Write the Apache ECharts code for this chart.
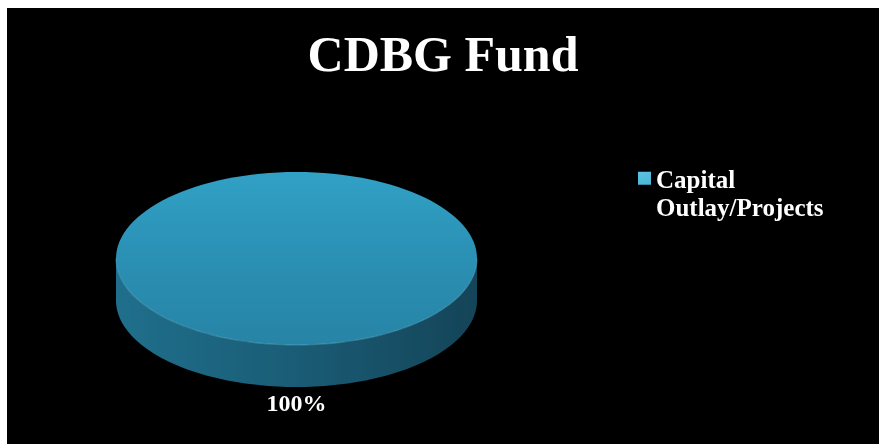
<!DOCTYPE html>
<html>
<head>
<meta charset="utf-8">
<script src="https://cdn.jsdelivr.net/npm/echarts@6/dist/echarts.min.js"></script>
<style>
  html, body { margin: 0; padding: 0; background: #ffffff; width: 879px; height: 444px; overflow: hidden; }
  #chart { position: absolute; left: 7px; top: 8px; width: 872px; height: 436px; background: #000000; }
</style>
</head>
<body>
<div id="chart"></div>
<script>
// ---- data ----
const titleText = 'CDBG Fund';
const categories = ['Capital Outlay/Projects'];
const legendLabels = ['Capital\nOutlay/Projects'];
const values = [100];

const chart = echarts.init(document.getElementById('chart'), null, { renderer: 'canvas' });

// geometry of the 3D-looking pie (chart-div coordinates)
const CX = 289.5, CY = 250.5, RX = 180.5, RY = 86.5, DEPTH = 42;
const SERIF = '"Liberation Serif", "Times New Roman", serif';

function renderItem(idx, api) {
  const total = values.reduce((a, b) => a + b, 0);
  let before = 0;
  for (let k = 0; k < idx; k++) before += values[k];
  const v = api.value(0);
  const a0 = -Math.PI / 2 + before / total * 2 * Math.PI;
  const a1 = a0 + v / total * 2 * Math.PI;
  const children = [];

  // visible side wall (front half of the rim, t in [0, PI] mod 2PI)
  const ranges = [[0, Math.PI], [2 * Math.PI, 3 * Math.PI], [-2 * Math.PI, -Math.PI]];
  ranges.forEach(r => {
    const lo = Math.max(a0, r[0]), hi = Math.min(a1, r[1]);
    if (hi > lo) {
      const pts = [];
      const n = 120;
      for (let s = 0; s <= n; s++) {
        const t = lo + (hi - lo) * s / n;
        pts.push([CX + RX * Math.cos(t), CY + RY * Math.sin(t)]);
      }
      for (let s = n; s >= 0; s--) {
        const t = lo + (hi - lo) * s / n;
        pts.push([CX + RX * Math.cos(t), CY + RY * Math.sin(t) + DEPTH]);
      }
      children.push({
        type: 'polygon',
        shape: { points: pts },
        style: {
          fill: new echarts.graphic.LinearGradient(0, 0, 1, 0, [
            { offset: 0, color: '#1f6f8c' },
            { offset: 0.5, color: '#1a5c75' },
            { offset: 1, color: '#144458' }
          ])
        }
      });
    }
  });

  const topFill = new echarts.graphic.LinearGradient(0, 0, 0, 1, [
    { offset: 0, color: '#31a1c5' },
    { offset: 0.5, color: '#2a90b4' },
    { offset: 1, color: '#2784a6' }
  ]);
  if (v >= total) {
    children.push({ type: 'ellipse', shape: { cx: CX, cy: CY, rx: RX, ry: RY }, style: { fill: topFill } });
  } else {
    children.push({
      type: 'sector',
      shape: { cx: CX, cy: CY, r: RX, r0: 0, startAngle: a0, endAngle: a1, clockwise: true },
      originX: CX, originY: CY, scaleY: RY / RX,
      style: { fill: topFill }
    });
  }
  // rim highlight
  children.push({
    type: 'polyline',
    shape: { points: (function () {
      const p = [];
      const lo = Math.max(a0, 0), hi = Math.min(a1, Math.PI);
      for (let s = 0; s <= 80; s++) {
        const t = lo + (hi - lo) * s / 80;
        p.push([CX + RX * Math.cos(t), CY + RY * Math.sin(t)]);
      }
      return p;
    })() },
    style: { stroke: 'rgba(120,200,225,0.35)', lineWidth: 1.2, fill: null }
  });

  // percentage label
  const mid = (a0 + a1) / 2;
  const pct = Math.round(v / total * 100) + '%';
  children.push({
    type: 'text',
    x: CX + (RX + 10) * Math.cos(mid) * (Math.abs(Math.cos(mid)) > 0.01 ? 1 : 0),
    y: CY + RY * Math.sin(mid) + (Math.sin(mid) > 0 ? DEPTH + 18 : -18),
    style: {
      text: pct, fill: '#ffffff', font: 'bold 24px ' + SERIF,
      align: 'center', verticalAlign: 'middle'
    }
  });
  return { type: 'group', children: children };
}

const option = {
  backgroundColor: '#000000',
  animation: false,
  title: {
    text: titleText,
    left: 'center',
    top: 20,
    textStyle: { color: '#ffffff', fontFamily: SERIF, fontWeight: 'bold', fontSize: 50 }
  },
  legend: {
    left: 631,
    top: 160,
    padding: 0,
    orient: 'vertical',
    // square aligned with the first text line inside a 2-line tall icon box
    icon: 'path://M0,7.5L13,7.5L13,20.5L0,20.5Z M0,56L0.01,56L0,56.01Z',
    itemWidth: 13,
    itemHeight: 56,
    itemGap: 8,
    data: categories,
    formatter: function (name) { return legendLabels[categories.indexOf(name)]; },
    textStyle: {
      color: '#ffffff', fontFamily: SERIF, fontWeight: 'bold', fontSize: 25,
      lineHeight: 28
    }
  },
  series: categories.map((c, i) => ({
    type: 'custom',
    name: c,
    coordinateSystem: 'none',
    renderItem: function (params, api) { return renderItem(i, api); },
    itemStyle: {
      color: new echarts.graphic.LinearGradient(0, 0, 1, 1, [
        { offset: 0, color: '#5cc4e2' },
        { offset: 1, color: '#2a93b8' }
      ])
    },
    data: [[values[i]]]
  }))
};

chart.setOption(option);
</script>
</body>
</html>
